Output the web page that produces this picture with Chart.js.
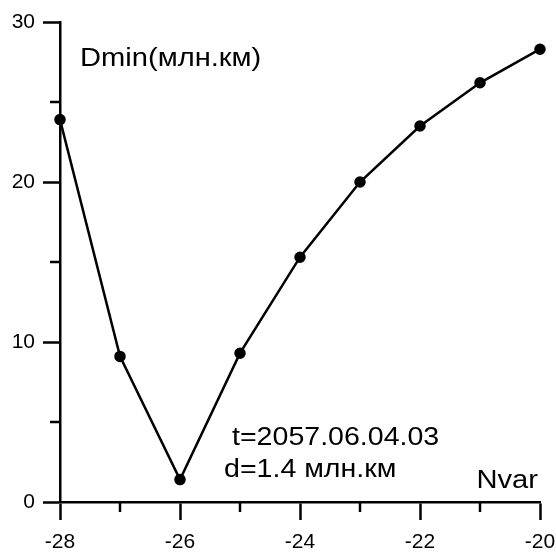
<!DOCTYPE html>
<html>
<head>
<meta charset="utf-8">
<script src="https://cdn.jsdelivr.net/npm/chart.js@4.4.1/dist/chart.umd.min.js"></script>
<style>
  html, body { margin: 0; padding: 0; background: #fff; }
  #wrap { width: 556px; height: 552px; }
</style>
</head>
<body>
<div id="wrap"><canvas id="dminChart"></canvas></div>
<script>
// values
const nvar = [-28, -27, -26, -25, -24, -23, -22, -21, -20];
const dmin = [23.9, 9.1, 1.4, 9.3, 15.3, 20.0, 23.5, 26.2, 28.3];
const xTicks = [-28, -26, -24, -22, -20];
const yTicks = [0, 10, 20, 30];

const yTitle = 'Dmin(млн.км)';
const xTitle = 'Nvar';
const noteLines = ['t=2057.06.04.03', 'd=1.4 млн.км'];

const fontFamily = '"Liberation Sans", Arial, sans-serif';

// the text in the picture is a little wider than plain Arial
function wideText(ctx, text, x, y, align) {
    const sx = 1.12;
    ctx.save();
    ctx.translate(x, y);
    ctx.scale(sx, 1);
    ctx.textAlign = align;
    ctx.fillText(text, 0, 0);
    ctx.restore();
}

// minor ticks (odd x, 5/15/25 on y) and the text labels inside the plot
const extras = {
    id: 'extras',
    afterDraw(chart) {
        const ctx = chart.ctx;
        const xs = chart.scales.x;
        const ys = chart.scales.y;
        const area = chart.chartArea;
        ctx.save();
        ctx.strokeStyle = '#000';
        ctx.lineWidth = 2.5;
        ctx.beginPath();
        for (let v = xs.min + 1; v < xs.max; v += 2) {
            const px = Math.round(xs.getPixelForValue(v));
            ctx.moveTo(px, area.bottom);
            ctx.lineTo(px, area.bottom + 10);
        }
        for (let v = 5; v < ys.max; v += 10) {
            const py = Math.round(ys.getPixelForValue(v));
            ctx.moveTo(area.left, py);
            ctx.lineTo(area.left - 10, py);
        }
        ctx.stroke();

        ctx.fillStyle = '#000';
        ctx.textBaseline = 'alphabetic';
        ctx.font = '26px ' + fontFamily;
        wideText(ctx, yTitle, area.left + 20, area.top + 44, 'left');
        wideText(ctx, xTitle, area.right - 2, area.bottom - 14, 'right');
        ctx.font = '25.5px ' + fontFamily;
        wideText(ctx, noteLines[0], 232, area.bottom - 57, 'left');
        wideText(ctx, noteLines[1], 224, area.bottom - 25, 'left');
        ctx.restore();
    }
};

const config = {
    type: 'scatter',
    data: {
        datasets: [{
            data: nvar.map((x, i) => ({ x: x, y: dmin[i] })),
            showLine: true,
            borderColor: '#000',
            backgroundColor: '#000',
            borderWidth: 2.5,
            pointRadius: 4.5,
            pointHoverRadius: 4.5,
            clip: false
        }]
    },
    options: {
        responsive: false,
        animation: false,
        events: [],
        layout: {
            padding: { top: 22, right: 16, left: 0, bottom: 0 }
        },
        plugins: {
            legend: { display: false },
            tooltip: { enabled: false }
        },
        scales: {
            x: {
                type: 'linear',
                min: -28,
                max: -20,
                afterBuildTicks: (scale) => {
                    scale.ticks = xTicks.map(v => ({ value: v }));
                },
                afterFit: (scale) => {
                    scale.height = 50;
                    // let the end labels hang over the edges like in the picture
                    scale.paddingLeft = 0;
                    scale.paddingRight = 0;
                },
                border: { display: true, color: '#000', width: 2.5 },
                grid: {
                    display: true,
                    drawOnChartArea: false,
                    drawTicks: true,
                    tickLength: 18,
                    tickWidth: 2.5,
                    tickColor: '#000'
                },
                ticks: {
                    color: '#000',
                    padding: 10,
                    maxRotation: 0,
                    autoSkip: false,
                    font: { family: fontFamily, size: 21 }
                }
            },
            y: {
                type: 'linear',
                min: 0,
                max: 30,
                afterBuildTicks: (scale) => {
                    scale.ticks = yTicks.map(v => ({ value: v }));
                },
                afterFit: (scale) => {
                    scale.width = 60;
                    scale.paddingTop = 0;
                    scale.paddingBottom = 0;
                },
                border: { display: true, color: '#000', width: 2.5 },
                grid: {
                    display: true,
                    drawOnChartArea: false,
                    drawTicks: true,
                    tickLength: 17,
                    tickWidth: 2.5,
                    tickColor: '#000'
                },
                ticks: {
                    color: '#000',
                    padding: 8,
                    font: { family: fontFamily, size: 21 }
                }
            }
        }
    },
    plugins: [extras]
};

const canvas = document.getElementById('dminChart');
canvas.width = 556;
canvas.height = 552;
new Chart(canvas, config);
</script>
</body>
</html>
